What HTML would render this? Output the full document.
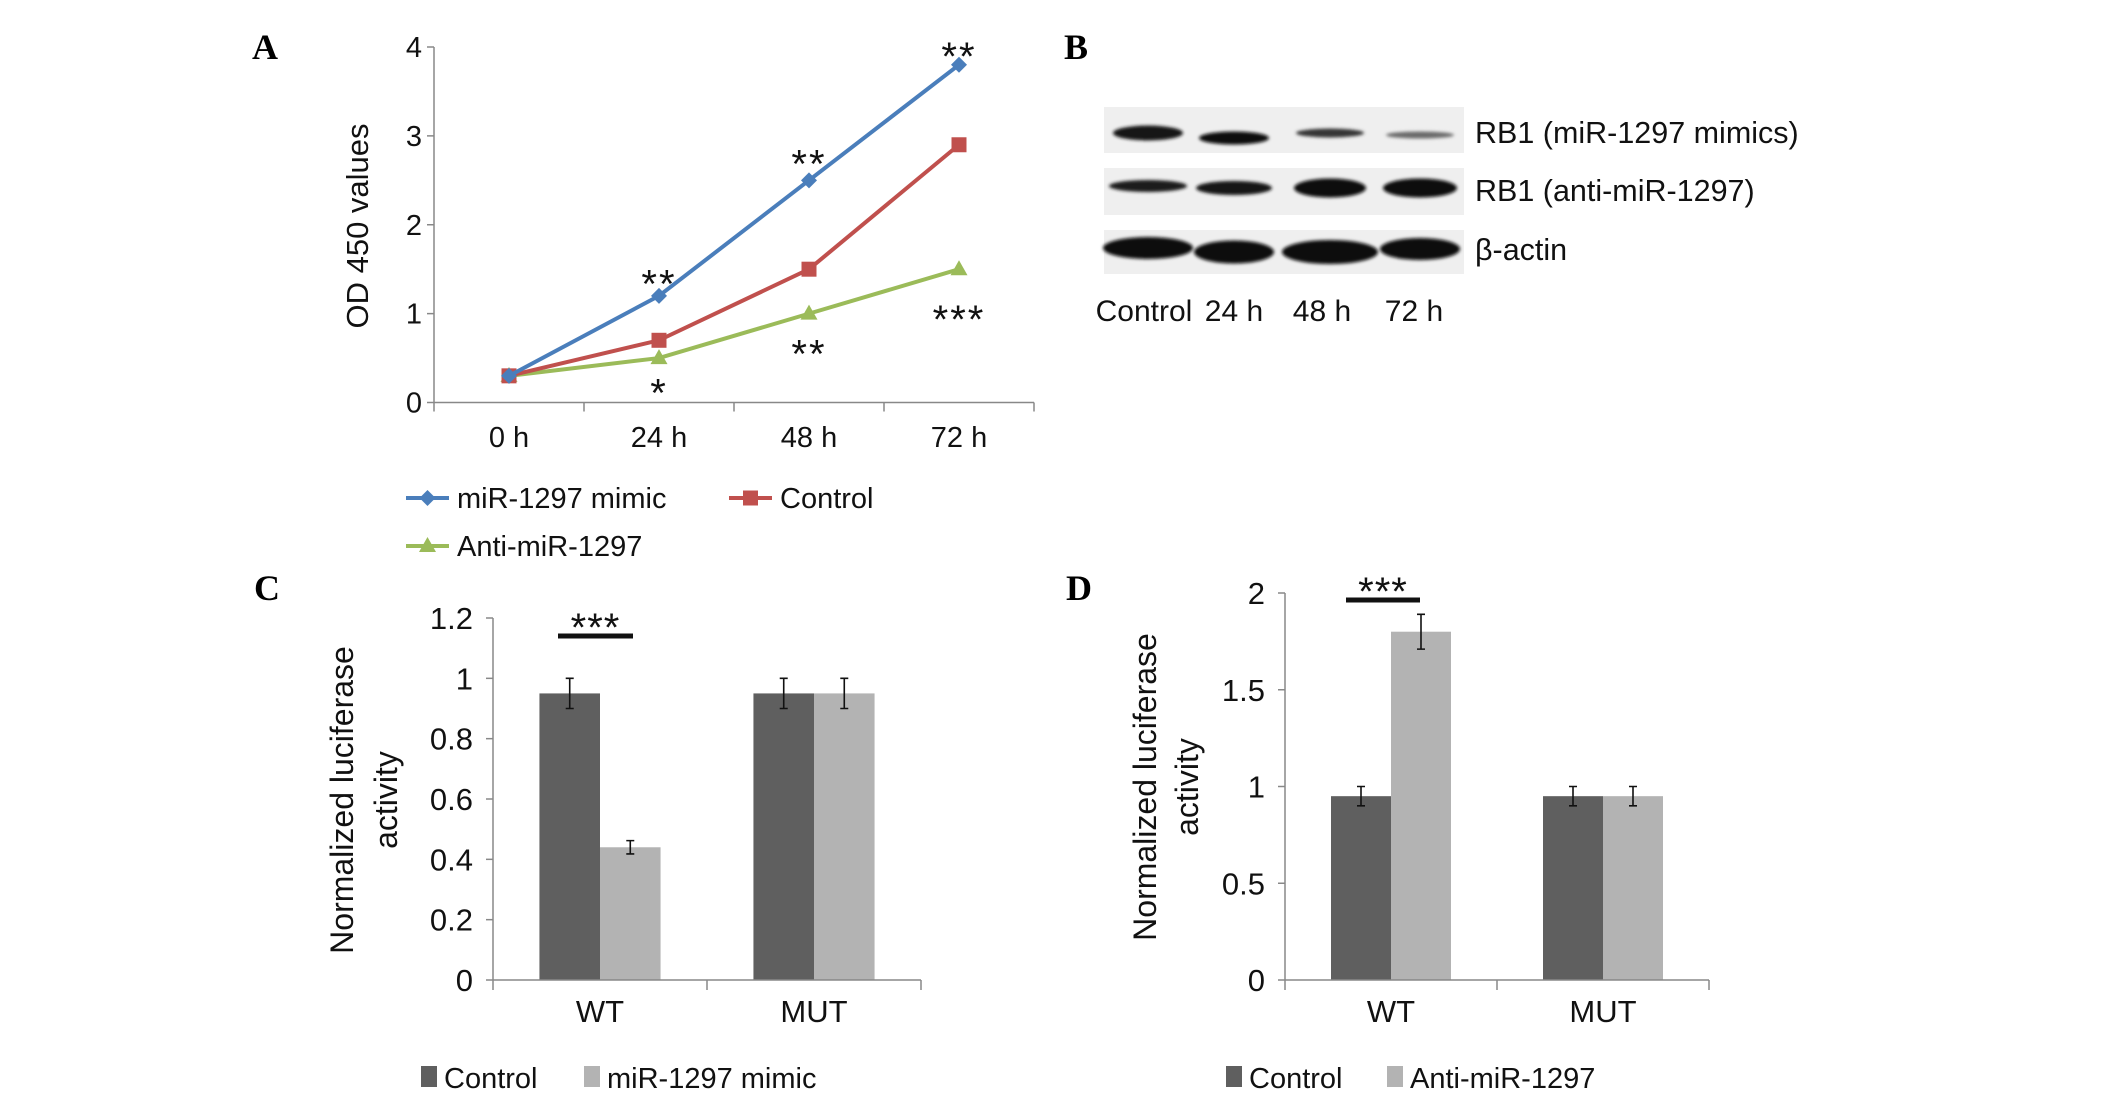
<!DOCTYPE html>
<html><head><meta charset="utf-8"><style>
html,body{margin:0;padding:0;background:#fff;}
svg{display:block;font-family:"Liberation Sans",Arial,sans-serif;}
.lbl{font-family:"Liberation Serif",serif;font-weight:bold;font-size:36px;}
</style></head><body>
<svg id="fig" width="2126" height="1098" viewBox="0 0 2126 1098" xmlns="http://www.w3.org/2000/svg">
<defs><filter id="blur" x="-20%" y="-100%" width="140%" height="300%"><feGaussianBlur stdDeviation="1.6"/></filter></defs>
<text class="lbl" x="252" y="59">A</text>
<text class="lbl" x="1064" y="59">B</text>
<text class="lbl" x="254" y="600">C</text>
<text class="lbl" x="1066" y="600">D</text>
<g id="pa"></g>
<g id="pb"></g>
<g id="pc"></g>
<g id="pd"></g>
</svg>
<script>
// ---- Panel A data ----
const timeCats = ["0 h","24 h","48 h","72 h"];
const mimicVals = [0.3, 1.2, 2.5, 3.8];
const controlVals = [0.3, 0.7, 1.5, 2.9];
const antiVals = [0.3, 0.5, 1.0, 1.5];
const aTicks = [0,1,2,3,4];
const aStars = [["**",1,1.43],["**",2,2.78],["**",3,3.99],["*",1,0.2],["**",2,0.64],["***",3,1.03]];
// ---- Panel C data ----
const groupCats = ["WT","MUT"];
const cControl = [0.95, 0.95];
const cMimic = [0.44, 0.95];
const cControlErr = [0.05, 0.05];
const cMimicErr = [0.022, 0.05];
const cTicks = ["0","0.2","0.4","0.6","0.8","1","1.2"];
// ---- Panel D data ----
const dControl = [0.95, 0.95];
const dAnti = [1.8, 0.95];
const dControlErr = [0.05, 0.05];
const dAntiErr = [0.09, 0.05];
const dTicks = ["0","0.5","1","1.5","2"];
// ---- Panel B data ----
const blotLanes = ["Control","24 h","48 h","72 h"];
const rb1MimicIntensity = [0.95, 1.0, 0.8, 0.55];
const rb1AntiIntensity = [0.92, 0.95, 1.0, 1.0];
const actinIntensity = [1, 1, 1, 1];

const NS="http://www.w3.org/2000/svg";
function mk(parent,tag,attrs,text){const e=document.createElementNS(NS,tag);for(const k in attrs)e.setAttribute(k,attrs[k]);if(text!==undefined)e.textContent=text;parent.appendChild(e);return e;}

// ================= Panel A =================
(function(){
  const g=document.getElementById('pa');
  const x0=434,x1=1034,y0=402.5,yTop=47,vmax=4;
  const ys=v=>y0-(v/vmax)*(y0-yTop);
  const band=(x1-x0)/timeCats.length;
  const xs=i=>x0+band*(i+0.5);
  let ax=mk(g,'line',{x1:x0,y1:yTop,x2:x0,y2:y0,stroke:'#888','stroke-width':1.5});
  
  let bx=mk(g,'line',{x1:x0,y1:y0,x2:x1,y2:y0,stroke:'#888','stroke-width':1.5});
  
  aTicks.forEach(t=>{
    mk(g,'line',{x1:x0-7,y1:ys(t),x2:x0,y2:ys(t),stroke:'#888','stroke-width':1.5});
    const tl=mk(g,'text',{x:x0-12,y:ys(t)+10,'text-anchor':'end','font-size':29,fill:'#111'},t);
    
  });
  for(let i=0;i<=timeCats.length;i++) mk(g,'line',{x1:x0+band*i,y1:y0,x2:x0+band*i,y2:y0+9,stroke:'#888','stroke-width':1.5});
  timeCats.forEach((c,i)=>{const t=mk(g,'text',{x:xs(i),y:447,'text-anchor':'middle','font-size':29,fill:'#111'},c);
    });
  const yt=mk(g,'text',{transform:'translate(368,226) rotate(-90)','text-anchor':'middle','font-size':31,fill:'#111'},'OD 450 values');
  
  function marker(p,type,cx,cy,col){
    let m;
    if(type==='d') m=mk(p,'polygon',{points:`${cx},${cy-8} ${cx+8},${cy} ${cx},${cy+8} ${cx-8},${cy}`,fill:col});
    else if(type==='s') m=mk(p,'rect',{x:cx-7.5,y:cy-7.5,width:15,height:15,fill:col});
    else m=mk(p,'polygon',{points:`${cx},${cy-9} ${cx+8.5},${cy+6} ${cx-8.5},${cy+6}`,fill:col});
    return m;
  }
  const series=[["mimic",mimicVals,'#4a7ebb','d'],["control",controlVals,'#c0504d','s'],["anti",antiVals,'#9bbb59','t']];
  series.slice().reverse().forEach(([nm,vals,col,mt])=>{
    const sg=mk(g,'g',{});
    
    const l=mk(sg,'polyline',{points:vals.map((v,i)=>xs(i)+','+ys(v)).join(' '),fill:'none',stroke:col,'stroke-width':4});
    
    vals.forEach((v,i)=>{const m=marker(sg,mt,xs(i),ys(v),col);
      });
  });
  aStars.forEach(([s,i,v])=>{const t=mk(g,'text',{x:xs(i),y:ys(v)+22,'text-anchor':'middle','font-size':40,fill:'#111','letter-spacing':2},s);
    });
  // legend
  const leg=[["miR-1297 mimic",'#4a7ebb','d',406,498],["Control",'#c0504d','s',729,498],["Anti-miR-1297",'#9bbb59','t',406,546]];
  leg.forEach(([txt,col,mt,lx,ly])=>{
    const lg=mk(g,'g',{});
    
    mk(lg,'line',{x1:lx,y1:ly,x2:lx+43,y2:ly,stroke:col,'stroke-width':4});
    marker(lg,mt,lx+21.5,ly,col);
    mk(lg,'text',{x:lx+51,y:ly+10,'font-size':29,fill:'#111'},txt);
  });
})();

// ================= Panel B =================
(function(){
  const g=document.getElementById('pb');
  const laneX=[1148,1234,1330,1420];
  const rows=[
    {name:'rb1-mimics-row',y:107,h:46,label:'RB1 (miR-1297 mimics)',ly:143,vals:rb1MimicIntensity,by:[133,138,133,135],bt:[15,13,9,7],bw:[70,70,68,68]},
    {name:'rb1-anti-row',y:168,h:47,label:'RB1 (anti-miR-1297)',ly:201,vals:rb1AntiIntensity,by:[186,188,188,188],bt:[12,14,19,19],bw:[78,76,72,74]},
    {name:'beta-actin-row',y:230,h:44,label:'\u03b2-actin',ly:260,vals:actinIntensity,by:[248,252,252,249],bt:[22,23,24,22],bw:[90,80,96,80]}
  ];
  rows.forEach(r=>{
    const rg=mk(g,'g',{});
    
    mk(rg,'rect',{x:1104,y:r.y,width:360,height:r.h,fill:'#efefef'});
    r.vals.forEach((v,i)=>{
      const shade=Math.round(225-215*v);
      const b=mk(rg,'ellipse',{cx:laneX[i],cy:r.by[i],rx:r.bw[i]/2,ry:r.bt[i]/2,fill:`rgb(${shade},${shade},${shade})`,filter:'url(#blur)'});
      
    });
    const t=mk(rg,'text',{x:1475,y:r.ly,'font-size':30.5,fill:'#111'},r.label);
    
  });
  const lx=[1144,1234,1322,1414];
  blotLanes.forEach((c,i)=>{const t=mk(g,'text',{x:lx[i],y:321,'text-anchor':'middle','font-size':30,fill:'#111'},c);
    });
})();

// ================= Bar panels =================
function barPanel(gid,o){
  const g=document.getElementById(gid);
  const {x0,x1,y0,yTop,vmax,ticks,a,b,ae,be,legB,title1x,title2x,titleY,stars,legX}=o;
  const ys=v=>y0-(v/vmax)*(y0-yTop);
  const band=(x1-x0)/groupCats.length;
  const bw=band*0.283;
  const ax=mk(g,'line',{x1:x0,y1:yTop,x2:x0,y2:y0,stroke:'#888','stroke-width':1.5});
  
  ticks.forEach(t=>{const v=parseFloat(t);
    mk(g,'line',{x1:x0-7,y1:ys(v),x2:x0,y2:ys(v),stroke:'#888','stroke-width':1.5});
    const tl=mk(g,'text',{x:x0-20,y:ys(v)+11,'text-anchor':'end','font-size':31,fill:'#111'},t);
    });
  groupCats.forEach((c,i)=>{
    const cx=x0+band*(i+0.5);
    [[a[i],ae[i],'#5f5f5f',cx-bw,'control'],[b[i],be[i],'#b3b3b3',cx,'treatment']].forEach(([v,e,col,bx,nm])=>{
      const r=mk(g,'rect',{x:bx,y:ys(v),width:bw,height:y0-ys(v),fill:col});
      
      const ex=bx+bw/2;
      const eb=mk(g,'path',{d:`M${ex},${ys(v+e)}V${ys(v-e)}M${ex-4},${ys(v+e)}H${ex+4}M${ex-4},${ys(v-e)}H${ex+4}`,stroke:'#111','stroke-width':1.6,fill:'none'});
      
    });
    const t=mk(g,'text',{x:cx,y:1022,'text-anchor':'middle','font-size':31,fill:'#111'},c);
    
  });
  const bx=mk(g,'line',{x1:x0,y1:y0,x2:x1,y2:y0,stroke:'#888','stroke-width':1.5});
  
  for(let i=0;i<=groupCats.length;i++) mk(g,'line',{x1:x0+band*i,y1:y0,x2:x0+band*i,y2:y0+10,stroke:'#888','stroke-width':1.5});
  const t1=mk(g,'text',{transform:`translate(${title1x},${titleY}) rotate(-90)`,'text-anchor':'middle','font-size':32,fill:'#111'},'Normalized luciferase');
  
  const t2=mk(g,'text',{transform:`translate(${title2x},${titleY}) rotate(-90)`,'text-anchor':'middle','font-size':32,fill:'#111'},'activity');
  
  const sb=mk(g,'rect',{x:stars.x1,y:stars.y-2.5,width:stars.x2-stars.x1,height:5,fill:'#111'});
  
  const st=mk(g,'text',{x:(stars.x1+stars.x2)/2,y:stars.y+5,'text-anchor':'middle','font-size':40,fill:'#111','letter-spacing':1},'***');
  
  [['Control','#5f5f5f',legX[0]],[legB,'#b3b3b3',legX[1]]].forEach(([txt,col,lx])=>{
    const lg=mk(g,'g',{});
    
    mk(lg,'rect',{x:lx,y:1066,width:16,height:21,fill:col});
    mk(lg,'text',{x:lx+23,y:1088,'font-size':29,fill:'#111'},txt);
  });
}
barPanel('pc',{x0:493,x1:921,y0:980,yTop:618,vmax:1.2,ticks:cTicks,a:cControl,b:cMimic,ae:cControlErr,be:cMimicErr,legB:'miR-1297 mimic',title1x:353,title2x:397,titleY:800,stars:{x1:558,x2:633,y:636},legX:[421,584]});
barPanel('pd',{x0:1285,x1:1709,y0:980,yTop:593,vmax:2,ticks:dTicks,a:dControl,b:dAnti,ae:dControlErr,be:dAntiErr,legB:'Anti-miR-1297',title1x:1156,title2x:1198,titleY:787,stars:{x1:1346,x2:1420,y:600},legX:[1226,1387]});
</script>
</body></html>
